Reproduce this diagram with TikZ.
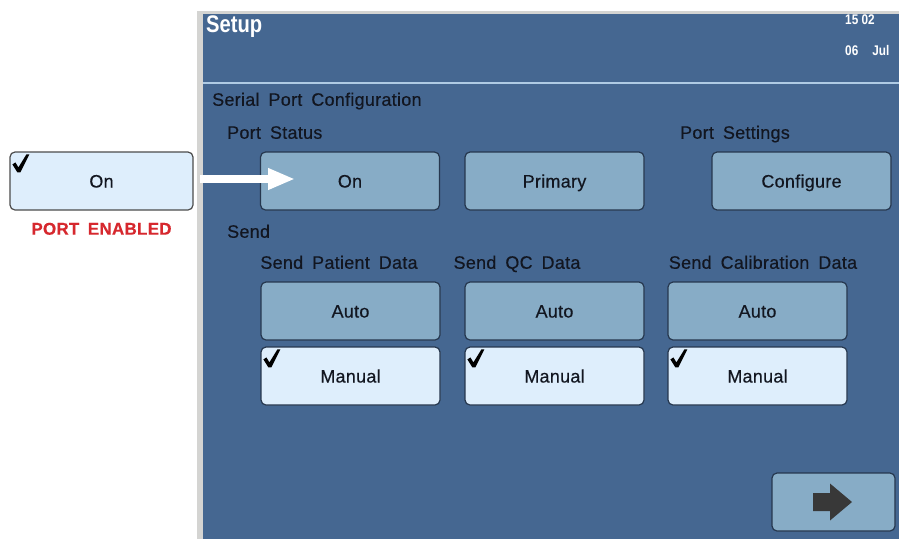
\documentclass[tikz,border=0pt]{standalone}
\usepackage{fontspec}
\setmainfont{Liberation Sans}[WordSpace=1.7, LetterSpace=1.5, FakeBold=0.4]
\newfontfamily\narrowfont{Liberation Sans}[FakeStretch=0.84]
\usetikzlibrary{positioning, arrows.meta, calc}
\definecolor{panel}{RGB}{69,103,145}
\definecolor{btnfill}{RGB}{135,172,198}
\definecolor{selfill}{RGB}{222,238,252}
\definecolor{btnedge}{RGB}{38,55,78}
\definecolor{darktxt}{RGB}{18,22,32}
\definecolor{alertred}{RGB}{214,40,46}
\definecolor{frame}{RGB}{212,212,210}
\definecolor{divider}{RGB}{175,203,228}
\tikzset{
  btn/.style={
    rectangle, rounded corners=5pt, draw=btnedge, line width=1.2pt,
    fill=btnfill, minimum width=179pt, minimum height=58pt,
    inner sep=0pt, text height=13pt, text depth=0pt,
    font=\fontsize{18}{20}\selectfont, text=darktxt
  },
  selbtn/.style={btn, fill=selfill},
  caption/.style={font=\fontsize{18}{20}\selectfont, text=darktxt, inner sep=0pt,
    text height=13pt, text depth=3.5pt},
  clock/.style={font=\narrowfont\bfseries\fontsize{14}{16}\selectfont, text=white, inner sep=0pt},
  tickmark/.pic={
    \fill[black] (3,13) -- (6,11) -- (9,16) -- (17,3) -- (20,3) -- (11,21) -- (8,21) -- cycle;
  },
}
\begin{document}
\begin{tikzpicture}[x=1pt, y=-1pt]
  \useasboundingbox (0,0) rectangle (899,539);
  % screen
  \fill[frame] (197,11) rectangle (899,539);
  \fill[panel] (203,14) rectangle (899,539);
  \draw[divider, line width=1.5pt] (203,83) -- (899,83);
  \node[anchor=west, text=white, font=\narrowfont\bfseries\fontsize{24}{26}\selectfont, inner sep=0pt] (title) at (206,27) {Setup};
  \node[clock, anchor=west] (time) at (845,20) {15 02};
  \node[clock, anchor=west] (date) at (845,50) {06\hspace{14pt}Jul};

  \node[caption, anchor=west] (serial) at (212,101) {Serial Port Configuration};
  \node[caption, anchor=west] (status) at (227,134) {Port Status};
  \node[caption] (settings) at (735,134) {Port Settings};

  \node[btn] (on) at (350,181) {On};
  \node[btn] (primary) at (554.5,181) {Primary};
  \node[btn] (configure) at (801.5,181) {Configure};

  \node[caption, anchor=west] (send) at (227,233) {Send};
  \node[caption] (patient) at (339,264) {Send Patient Data};
  \node[caption] (qc) at (517,264) {Send QC Data};
  \node[caption] (calib) at (763,264) {Send Calibration Data};

  \node[btn] (auto1) at (350.5,311) {Auto};
  \node[btn] (auto2) at (554.5,311) {Auto};
  \node[btn] (auto3) at (757.5,311) {Auto};
  \node[selbtn] (manual1) at (350.5,376) {Manual};
  \node[selbtn] (manual2) at (554.5,376) {Manual};
  \node[selbtn] (manual3) at (757.5,376) {Manual};
  \foreach \b in {manual1, manual2, manual3}
    \pic at (\b.north west) {tickmark};

  % next button
  \node[btn, minimum width=123pt] (next) at (833.5,502) {};
  \fill[black!78] ($(next.center)+(-20.5,-9)$) -- ++(17,0) -- ++(0,-9.5) -- ++(22,18.5)
    -- ++(-22,18.5) -- ++(0,-9.5) -- ++(-17,0) -- cycle;

  % callout
  \node[selbtn, minimum width=183pt, draw=black!70] (enabled) at (101.5,181) {On};
  \pic at (enabled.north west) {tickmark};
  \node[font=\bfseries\fontsize{17}{19}\selectfont, text=alertred, below=12pt of enabled, inner sep=0pt] (state) {PORT ENABLED};
  \coordinate (tail) at (200,179);
  \coordinate (tip) at (295,179);
  \draw[white, line width=8pt, -{Triangle[length=27pt, width=20pt]}] (tail) -- (tip);
\end{tikzpicture}
\end{document}
